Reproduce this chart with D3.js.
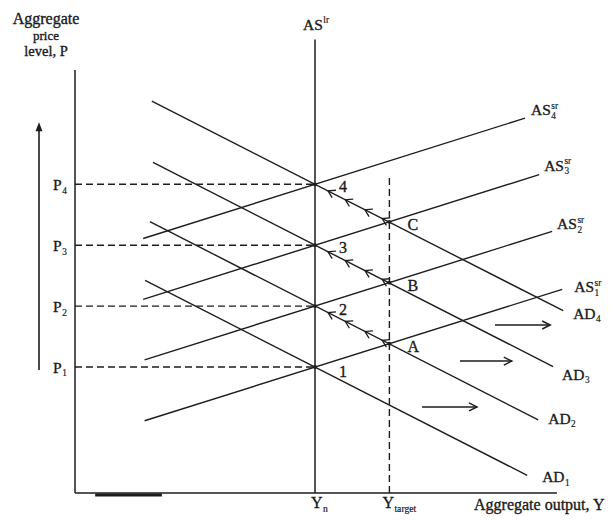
<!DOCTYPE html>
<html><head><meta charset="utf-8">
<script src="https://cdn.jsdelivr.net/npm/d3@7"></script>
<style>
body{margin:0;background:#fff}
svg{display:block}
text{font-family:"Liberation Serif","Times New Roman",serif;fill:#1a1a1a;stroke:#1a1a1a;stroke-width:0.35px}
</style>
</head><body>
<svg id="c" width="611" height="520"></svg>
<script>
// ---------- data (economic units) ----------
const priceIndex = ["1", "2", "3", "4"];
const priceLevels = [30, 44.5, 59, 73.5];
const outputNatural = 50;
const outputTarget = 65.5;
// short-run aggregate supply lines: [x0, p0, x1, p1]
const asLines = [
  [14.5, 17.2, 101.5, 48.5],
  [14.5, 31.7, 99.4, 62.3],
  [14.2, 46.1, 96.7, 75.8],
  [14.2, 60.6, 93.75, 89.25]
];
// aggregate demand lines: [x0, p0, x1, p1]
const adLines = [
  [14.6, 50.6, 94.2, 4.2],
  [15.6, 64.6, 96.5, 17.4],
  [16.25, 78.7, 99.6, 30.1],
  [16.0, 93.3, 101.7, 43.4]
];
const targetPointLabels = ["A", "B", "C"];
const naturalPointLabels = ["1", "2", "3", "4"];
const moveArrowX = [52.7, 56.3, 60.4, 64.0];
// AD shift arrows: [x0, x1, p]
const shiftArrows = [
  [72.3, 83.75, 20.5],
  [80.2, 91.0, 31.4],
  [87.5, 99.0, 40.0]
];
const priceArrow = [-7.5, 29.3, 88.3];

// ---------- layout ----------
const svg = d3.select("#c");
const x = d3.scaleLinear().domain([0, 100]).range([75, 555]);
const y = d3.scaleLinear().domain([0, 100]).range([493, 73]);
const ink = "#1d1d1d";
const g = svg.append("g");

function seg(x0, y0, x1, y1, w, dash) {
  const l = g.append("line")
    .attr("x1", x(x0)).attr("y1", y(y0)).attr("x2", x(x1)).attr("y2", y(y1))
    .attr("stroke", ink).attr("stroke-width", w || 1.4);
  if (dash) l.attr("stroke-dasharray", dash);
  return l;
}

// axes
seg(0, 0, 0, 100.7, 1.5);
seg(0, 0, 100.4, 0, 1.5);
g.append("line").attr("x1", x(4.2)).attr("x2", x(18.1)).attr("y1", y(0) + 2).attr("y2", y(0) + 2)
  .attr("stroke", ink).attr("stroke-width", 3);

// long-run AS
seg(outputNatural, 0, outputNatural, 108, 1.5);
// target output dashed
seg(outputTarget, 0, outputTarget, 75.7, 1.4, "7,4");
// price level dashes
priceLevels.forEach(p => seg(0, p, outputNatural, p, 1.4, "7,4"));

// AS and AD lines
asLines.forEach(d => seg(d[0], d[1], d[2], d[3], 1.4));
adLines.forEach(d => seg(d[0], d[1], d[2], d[3], 1.4));

// left price arrow
seg(priceArrow[0], priceArrow[1], priceArrow[0], priceArrow[2] - 1.5, 1.6);
{
  const px = x(priceArrow[0]), py = y(priceArrow[2]);
  g.append("path").attr("d", `M${px},${py} L${px - 3.5},${py + 9} L${px + 3.5},${py + 9} Z`).attr("fill", ink);
}

// shift arrows
shiftArrows.forEach(d => {
  seg(d[0], d[2], d[1], d[2], 1.5);
  const px = x(d[1]), py = y(d[2]);
  g.append("path").attr("d", `M${px - 8},${py - 4} L${px},${py} L${px - 8},${py + 4}`)
    .attr("fill", "none").attr("stroke", ink).attr("stroke-width", 1.5);
});

// movement arrowheads along AD2..AD4 (pointing up-left)
function lineAt(l, xv) { return l[1] + (l[3] - l[1]) * (xv - l[0]) / (l[2] - l[0]); }
adLines.slice(1).forEach(l => {
  const ux = x(l[0]) - x(l[2]), uy = y(l[1]) - y(l[3]);
  const len = Math.hypot(ux, uy), dx = ux / len, dy = uy / len;
  moveArrowX.forEach(xv => {
    const tx = x(xv), ty = y(lineAt(l, xv));
    const a = 0.55, L = 8;
    const bx = -dx, by = -dy;
    const w1x = tx + L * (bx * Math.cos(a) - by * Math.sin(a)), w1y = ty + L * (bx * Math.sin(a) + by * Math.cos(a));
    const w2x = tx + L * (bx * Math.cos(-a) - by * Math.sin(-a)), w2y = ty + L * (bx * Math.sin(-a) + by * Math.cos(-a));
    g.append("path").attr("d", `M${w1x},${w1y} L${tx},${ty} L${w2x},${w2y}`)
      .attr("fill", "none").attr("stroke", ink).attr("stroke-width", 1.3);
  });
});

// intersection dots
priceLevels.forEach(p => g.append("circle").attr("cx", x(outputNatural)).attr("cy", y(p)).attr("r", 1.9).attr("fill", ink));
const targetPrices = [0, 1, 2].map(i => lineAt(asLines[i], outputTarget));
targetPrices.forEach(p => g.append("circle").attr("cx", x(outputTarget)).attr("cy", y(p)).attr("r", 1.9).attr("fill", ink));

// ---------- text ----------
function txt(tx, ty, s, size, anchor) {
  return g.append("text").attr("x", tx).attr("y", ty).attr("font-size", size)
    .attr("text-anchor", anchor || "start").text(s);
}
// label with base, superscript and subscript stacked
function supSub(tx, ty, base, size, sup, sub) {
  const t = txt(tx, ty, base, size);
  const w = t.node().getComputedTextLength();
  if (sup) txt(tx + w + 0.5, ty - size * 0.42, sup, size * 0.6).style("stroke-width", "0.2px");
  if (sub) txt(tx + w + 0.5, ty + size * 0.22, sub, size * 0.6).style("stroke-width", "0.2px");
}

// y title
txt(46, 24, "Aggregate", 16, "middle");
txt(46, 40, "price", 13, "middle");
txt(46, 56, "level, P", 14.5, "middle");

// AS long run
supSub(x(outputNatural) - 12, 30, "AS", 15.5, "lr", null);

// P labels
priceLevels.forEach((p, i) => supSub(53, y(p) + 6, "P", 15.5, null, priceIndex[i]));

// point labels
const natOff = [10, 9, 8, 8];
priceLevels.forEach((p, i) => txt(x(outputNatural) + 24, y(p) + natOff[i], naturalPointLabels[i], 16));
targetPrices.forEach((p, i) => txt(x(outputTarget) + 18, y(p) + 8, targetPointLabels[i], 16));

// AS labels
const asLab = [[12, 3], [5, -2], [5, -4], [6, -3]];
asLines.forEach((l, i) => supSub(x(l[2]) + asLab[i][0], y(l[3]) + asLab[i][1], "AS", 15.5, "sr", priceIndex[i]));
// AD labels
const adLab = [[15, 7], [10, 4], [9, 13], [10, 8]];
adLines.forEach((l, i) => supSub(x(l[2]) + adLab[i][0], y(l[3]) + adLab[i][1], "AD", 15.5, null, priceIndex[i]));

// x labels
supSub(x(outputNatural) - 4, 508, "Y", 16, null, "n");
supSub(x(outputTarget) - 7, 508, "Y", 16, null, "target");
txt(474, 510, "Aggregate output, Y", 16);
</script>
</body></html>
